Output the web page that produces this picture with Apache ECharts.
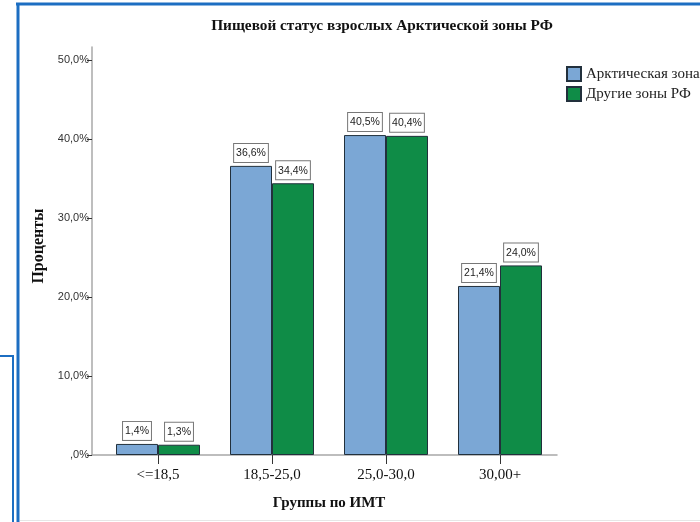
<!DOCTYPE html>
<html>
<head>
<meta charset="utf-8">
<script src="https://cdn.jsdelivr.net/npm/echarts@6/dist/echarts.min.js"></script>
<style>
  html, body { margin: 0; padding: 0; background: #fff; }
  #chart { width: 700px; height: 522px; }
</style>
</head>
<body>
<div id="chart"></div>
<script>
// BMI groups and the share of adults in each group, percent
const categories = ['<=18,5', '18,5-25,0', '25,0-30,0', '30,00+'];
const arcticZone = [1.4, 36.6, 40.5, 21.4];
const otherZones = [1.3, 34.4, 40.4, 24.0];
const yTicks = [0, 10, 20, 30, 40, 50];
const seriesNames = ['Арктическая зона', 'Другие зоны РФ'];

const Y_MAX = 51.65;
const serif = '"Liberation Serif", "DejaVu Serif", serif';
const sans = '"Liberation Sans", "DejaVu Sans", sans-serif';

const fmtPct = v => (v === 0 ? ',0%' : v.toFixed(1).replace('.', ',') + '%');

const chart = echarts.init(document.getElementById('chart'), null, { renderer: 'canvas' });

const labelStyle = {
  show: true,
  position: 'top',
  distance: 4,
  formatter: p => fmtPct(p.value),
  fontFamily: sans,
  fontSize: 10.5,
  color: '#222',
  backgroundColor: '#fff',
  borderColor: '#777',
  borderWidth: 1,
  padding: [4, 2, 3, 2]
};

chart.setOption({
  animation: false,
  backgroundColor: '#fff',
  title: {
    text: 'Пищевой статус взрослых Арктической зоны РФ',
    left: 377,
    top: 14,
    textAlign: 'center',
    textStyle: { fontFamily: serif, fontWeight: 'bold', fontSize: 15.3, color: '#111' }
  },
  legend: {
    orient: 'vertical',
    left: 561,
    top: 61,
    itemWidth: 14,
    itemHeight: 14,
    itemGap: 4,
    icon: 'rect',
    data: seriesNames,
    textStyle: { fontFamily: serif, fontSize: 15, color: '#222' }
  },
  grid: [
    { left: 101, right: 143, top: 47, bottom: 67 },
    { left: 92, right: 143, top: 47, bottom: 67 }
  ],
  xAxis: [
    {
      type: 'category',
      gridIndex: 0,
      data: categories,
      axisLine: { show: false },
      axisTick: { show: true, alignWithLabel: true, length: 9, lineStyle: { color: '#333' } },
      axisLabel: { margin: 13, fontFamily: serif, fontSize: 15, color: '#111' },
      name: 'Группы по ИМТ',
      nameLocation: 'middle',
      nameGap: 41,
      nameTextStyle: { fontFamily: serif, fontWeight: 'bold', fontSize: 15, color: '#111' }
    },
    {
      type: 'value',
      gridIndex: 1,
      min: 0,
      max: 1,
      axisLine: { show: true, lineStyle: { color: '#a8a8a8', width: 1.5 } },
      axisTick: { show: false },
      axisLabel: { show: false },
      splitLine: { show: false }
    }
  ],
  yAxis: [
    {
      type: 'value',
      gridIndex: 0,
      min: 0,
      max: Y_MAX,
      show: false
    },
    {
      type: 'value',
      gridIndex: 1,
      min: 0,
      max: Y_MAX,
      axisLine: { show: true, lineStyle: { color: '#a8a8a8', width: 1.5 } },
      axisTick: { show: true, length: 5, customValues: yTicks, lineStyle: { color: '#333' } },
      axisLabel: { customValues: yTicks, formatter: v => fmtPct(v), margin: 3, fontFamily: sans, fontSize: 11, color: '#333' },
      splitLine: { show: false },
      name: 'Проценты',
      nameLocation: 'middle',
      nameGap: 44,
      nameTextStyle: { fontFamily: serif, fontWeight: 'bold', fontSize: 16, color: '#111', padding: [0, 0, 0, 10] }
    }
  ],
  series: [
    {
      name: seriesNames[0],
      type: 'bar',
      xAxisIndex: 0,
      yAxisIndex: 0,
      data: arcticZone,
      barWidth: 42,
      barGap: '0%',
      itemStyle: { color: '#7ba7d5', borderColor: '#22303c', borderWidth: 1 },
      label: labelStyle
    },
    {
      name: seriesNames[1],
      type: 'bar',
      xAxisIndex: 0,
      yAxisIndex: 0,
      data: otherZones,
      barWidth: 42,
      barGap: '0%',
      itemStyle: { color: '#0f8c47', borderColor: '#22303c', borderWidth: 1 },
      label: labelStyle
    }
  ],
  // page frame around the chart
  graphic: [
    { type: 'line', shape: { x1: 16, y1: 4, x2: 700, y2: 4 }, style: { stroke: '#1c6ec2', lineWidth: 3 } },
    { type: 'line', shape: { x1: 18, y1: 3, x2: 18, y2: 522 }, style: { stroke: '#1c6ec2', lineWidth: 3 } },
    { type: 'line', shape: { x1: 0, y1: 356, x2: 13, y2: 356 }, style: { stroke: '#1c6ec2', lineWidth: 2 } },
    { type: 'line', shape: { x1: 13, y1: 355, x2: 13, y2: 522 }, style: { stroke: '#1c6ec2', lineWidth: 2 } },
    { type: 'line', shape: { x1: 20, y1: 520.5, x2: 700, y2: 520.5 }, style: { stroke: '#e6e6e6', lineWidth: 1 } }
  ]
});
</script>
</body>
</html>
